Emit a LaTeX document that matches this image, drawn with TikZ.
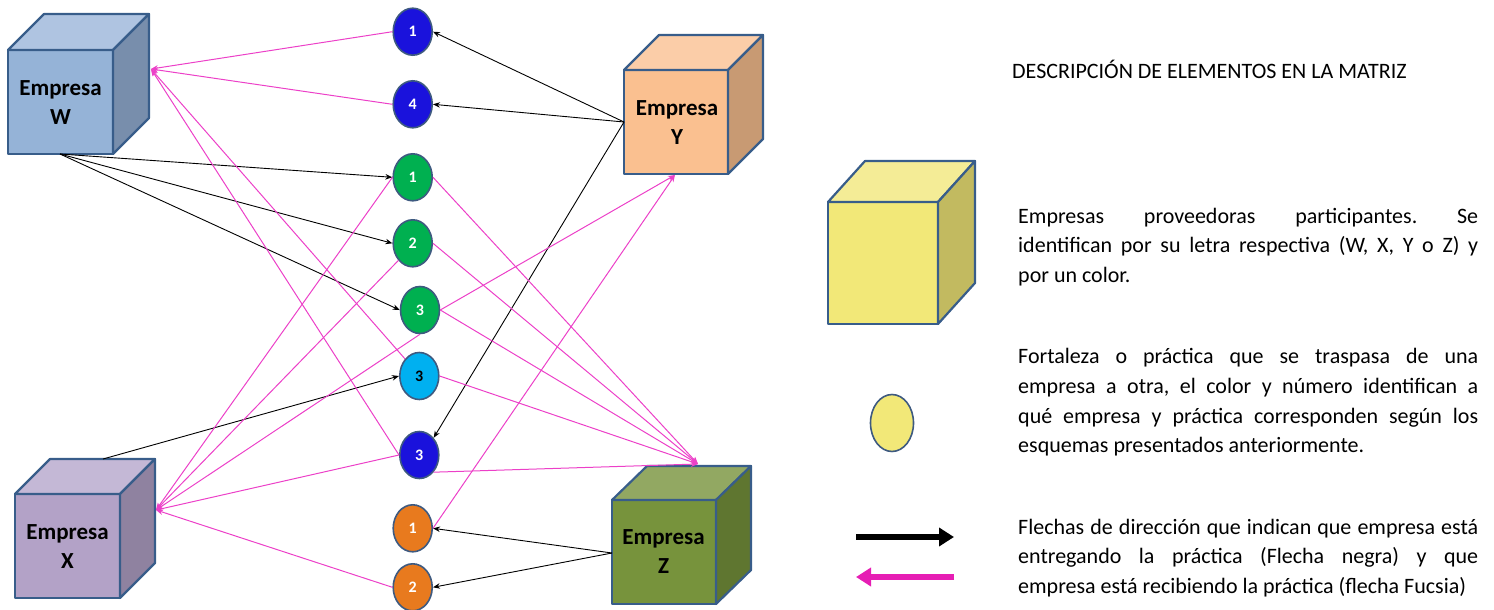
\documentclass[tikz,border=0pt]{standalone}
\usepackage{fontspec}
\setmainfont{Carlito}
\frenchspacing
\usetikzlibrary{shapes.geometric,arrows.meta}
\definecolor{cubeline}{RGB}{56,93,138}
\definecolor{circline}{RGB}{62,90,128}
\definecolor{fucsia}{RGB}{236,64,200}
\definecolor{fucsiaL}{RGB}{230,30,180}
\definecolor{blueC}{RGB}{26,18,220}
\definecolor{greenC}{RGB}{0,176,80}
\definecolor{cyanC}{RGB}{0,176,240}
\definecolor{orangeC}{RGB}{232,122,30}
\definecolor{Wfront}{RGB}{149,179,215}
\definecolor{Wtop}{RGB}{175,196,225}
\definecolor{Wside}{RGB}{120,142,172}
\definecolor{Xfront}{RGB}{179,162,199}
\definecolor{Xtop}{RGB}{196,184,214}
\definecolor{Xside}{RGB}{143,130,160}
\definecolor{Yfront}{RGB}{250,192,144}
\definecolor{Ytop}{RGB}{251,205,168}
\definecolor{Yside}{RGB}{200,154,115}
\definecolor{Zfront}{RGB}{119,147,60}
\definecolor{Ztop}{RGB}{146,168,98}
\definecolor{Zside}{RGB}{95,118,48}
\definecolor{Lfront}{RGB}{242,232,120}
\definecolor{Ltop}{RGB}{244,236,150}
\definecolor{Lside}{RGB}{194,186,96}
\newcommand{\cuboid}[9]{%
  \filldraw[cubestroke, fill=#7] (#1,#2) rectangle (#3,#4);
  \filldraw[cubestroke, fill=#8] (#1,#2) -- ({#1+#5},{#2-#6}) -- ({#3+#5},{#2-#6}) -- (#3,#2) -- cycle;
  \filldraw[cubestroke, fill=#9] (#3,#2) -- ({#3+#5},{#2-#6}) -- ({#3+#5},{#4-#6}) -- (#3,#4) -- cycle;
}
\tikzset{
  cubestroke/.style={draw=cubeline, line width=2.2, line join=round},
  cubelabel/.style={align=center, inner sep=0, font=\fontsize{23}{29}\selectfont\bfseries},
  prac/.style={ellipse, draw=circline, line width=1.6, minimum width=39, minimum height=47, inner sep=0, font=\fontsize{16}{16}\selectfont\bfseries, text=white},
  give/.style={draw=black, line width=0.9, -{Stealth[length=7,width=5.5]}},
  recv/.style={draw=fucsia, line width=1, -{Stealth[length=7,width=5.5]}},
  legtxt/.style={anchor=base west, inner sep=0, font=\fontsize{22}{26}\selectfont},
}
\newcommand{\jline}[1]{\makebox[460pt][s]{#1}}
\begin{document}
\begin{tikzpicture}[x=1pt,y=-1pt]
\useasboundingbox (0,0) rectangle (1494,610);
% cubes
\cuboid{8}{50}{113}{154}{36}{36}{Wfront}{Wtop}{Wside}
\node[cubelabel] (W) at (60.5,102.5) {Empresa\\W};
\cuboid{15}{494}{120}{598}{35}{35}{Xfront}{Xtop}{Xside}
\node[cubelabel] (X) at (67.5,546.5) {Empresa\\X};
\cuboid{624}{70}{728}{174}{35}{35}{Yfront}{Ytop}{Yside}
\node[cubelabel] (Y) at (677,122.5) {Empresa\\Y};
\cuboid{612}{500}{716}{604}{35}{34}{Zfront}{Ztop}{Zside}
\node[cubelabel] (Z) at (663.5,552) {Empresa\\Z};
% ports
\coordinate (Wout) at (60,154);
\coordinate (Win) at (151,69);
\coordinate (Xout) at (103,459);
\coordinate (Xin) at (156,510);
\coordinate (Yout) at (624,122);
\coordinate (Yin) at (675,175);
\coordinate (Zout) at (612,553);
\coordinate (Zin) at (698,464);
% practice circles
\node[prac, fill=blueC] (b1) at (412.7,31.7) {1};
\node[prac, fill=blueC] (b4) at (412.7,104.3) {4};
\node[prac, fill=greenC] (g1) at (412.7,177.3) {1};
\node[prac, fill=greenC] (g2) at (412.7,243.3) {2};
\node[prac, fill=greenC] (g3) at (420,310) {3};
\node[prac, fill=cyanC, text=black] (c3) at (419.3,376) {3};
\node[prac, fill=blueC] (b3) at (419.3,455) {3};
\node[prac, fill=orangeC] (o1) at (412.7,528.3) {1};
\node[prac, fill=orangeC] (o2) at (412.7,587.3) {2};
% black arrows (giving)
\draw[give] (Yout) -- (b1.east);
\draw[give] (Yout) -- (b4.east);
\draw[give] (Yout) -- (b3.north east);
\draw[give] (Wout) -- (g1.west);
\draw[give] (Wout) -- (g2.west);
\draw[give] (Wout) -- (g3.west);
\draw[give] (Xout) -- (c3.west);
\draw[give] (Zout) -- (o1.east);
\draw[give] (Zout) -- (o2.east);
% fuchsia arrows (receiving)
\draw[recv] (b1.west) -- (Win);
\draw[recv] (b4.west) -- (Win);
\draw[recv] (c3.north west) -- (Win);
\draw[recv] (b3.west) -- (Win);
\draw[recv] (g1.west) -- (Xin);
\draw[recv] (g2.south west) -- (Xin);
\draw[recv] (g3.south) -- (Xin);
\draw[recv] (b3.west) -- (Xin);
\draw[recv] (o2.west) -- (Xin);
\draw[recv] (g3.east) -- (Yin);
\draw[recv] (o1.east) -- (Yin);
\draw[recv] (g1.east) -- (Zin);
\draw[recv] (g2.east) -- (Zin);
\draw[recv] (g3.east) -- (Zin);
\draw[recv] (c3.east) -- (Zin);
\draw[recv] (b3.south east) -- (Zin);
% legend
\node[legtxt] (title) at (1012,78) {DESCRIPCIÓN DE ELEMENTOS EN LA MATRIZ};
\cuboid{828}{202}{938}{324}{37}{41}{Lfront}{Ltop}{Lside}
\node[legtxt] (p1a) at (1018,223) {\jline{Empresas proveedoras participantes. Se}};
\node[legtxt] (p1b) at (1018,252.5) {\jline{identifican por su letra respectiva (W, X, Y o Z) y}};
\node[legtxt] (p1c) at (1018,282) {por un color.};
\node[ellipse, draw=circline, line width=1.6, fill=Lfront, minimum width=43, minimum height=57] (legc) at (892,423) {};
\node[legtxt] (p2a) at (1018,363) {\jline{Fortaleza o práctica que se traspasa de una}};
\node[legtxt] (p2b) at (1018,393) {\jline{empresa a otra, el color y número identifican a}};
\node[legtxt] (p2c) at (1018,423) {\jline{qué empresa y práctica corresponden según los}};
\node[legtxt] (p2d) at (1018,452) {esquemas presentados anteriormente.};
\coordinate (ka) at (856,537);
\coordinate (kb) at (954,537);
\coordinate (fa) at (954,577);
\coordinate (fb) at (856,577);
\draw[line width=6, -{Triangle[length=15,width=18]}] (ka) -- (kb);
\draw[fucsiaL, line width=6, -{Triangle[length=15,width=18]}] (fa) -- (fb);
\node[legtxt] (p3a) at (1018,534) {\jline{Flechas de dirección que indican que empresa está}};
\node[legtxt] (p3b) at (1018,563) {\jline{entregando la práctica (Flecha negra) y que}};
\node[legtxt] (p3c) at (1018,593) {empresa está recibiendo la práctica (flecha Fucsia)};
\end{tikzpicture}
\end{document}
